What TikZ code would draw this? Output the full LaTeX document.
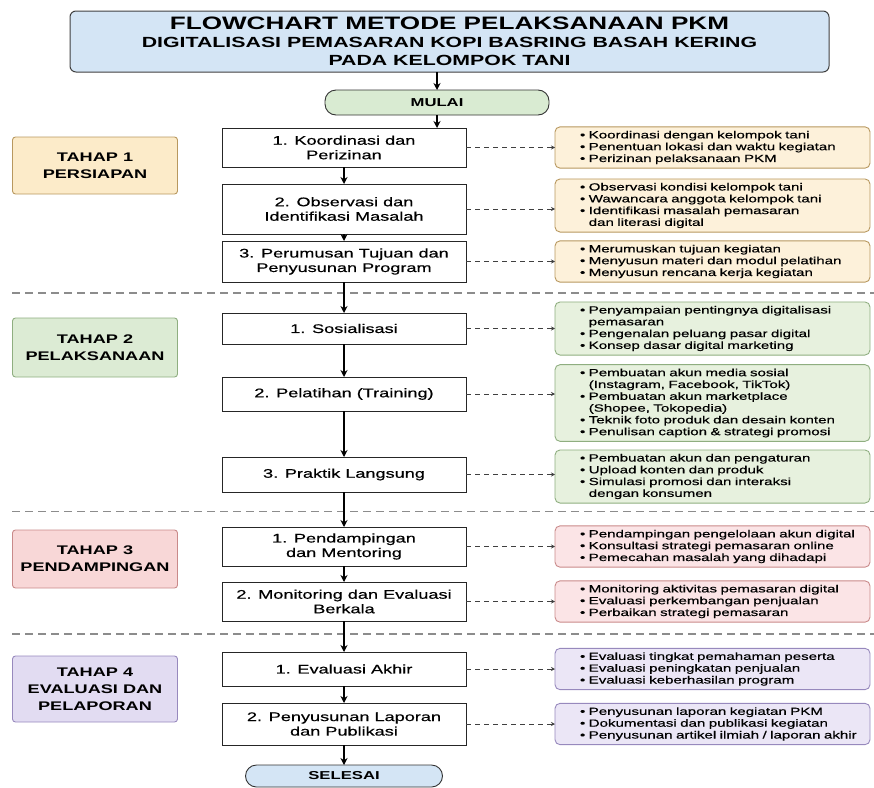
\documentclass[tikz,border=0pt]{standalone}
\usepackage{fontspec}
\setmainfont{Liberation Sans}[FakeStretch=1.45]
\newfontfamily\medfont{Liberation Sans}[FakeStretch=1.45,FakeBold=0.5]
\usetikzlibrary{arrows.meta, positioning}
\definecolor{pkmblue}{HTML}{D4E5F5}
\definecolor{pkmgreen}{HTML}{D9EBD2}
\definecolor{prepfill}{HTML}{FCEBC9}
\definecolor{prepline}{HTML}{B8985F}
\definecolor{prepnote}{HTML}{FDF1DA}
\definecolor{execfill}{HTML}{DCEBD4}
\definecolor{execline}{HTML}{8FAE80}
\definecolor{execnote}{HTML}{E7F1DE}
\definecolor{mentfill}{HTML}{F8D7D7}
\definecolor{mentline}{HTML}{C98A8A}
\definecolor{mentnote}{HTML}{FBE4E6}
\definecolor{evalfill}{HTML}{E2DCF2}
\definecolor{evalline}{HTML}{9789BD}
\definecolor{evalnote}{HTML}{EBE6F6}
\newcommand{\itm}[1]{\mbox{\textbullet\ #1}}
\newcommand{\cnt}[1]{\mbox{\hphantom{\textbullet\ }#1}}

\begin{document}
\begin{tikzpicture}[
    x=1pt, y=-1pt,
    stepbox/.style={draw=black!85, fill=white, line width=0.9pt, outer sep=0pt, minimum width=244pt, inner sep=2pt, align=center, font=\medfont\fontsize{12.5}{14.5}\selectfont},
    stage/.style={rounded corners=3pt, line width=0.9pt, minimum width=165pt, align=center, font=\bfseries\fontsize{12.5}{17}\selectfont},
    note/.style={rounded corners=5pt, line width=0.9pt, outer sep=0pt, text width=265pt, inner xsep=25pt, inner ysep=4pt, align=left, font=\medfont\fontsize{10.4}{11.8}\selectfont},
    terminal/.style={rounded corners=11pt, draw=black!80, line width=0.9pt, outer sep=0pt, font=\bfseries\fontsize{11.5}{13}\selectfont},
    flow/.style={-{Stealth[length=7pt,width=7pt]}, line width=1.4pt},
    link/.style={-{Stealth[length=4pt,width=4pt]}, dash pattern=on 5pt off 4pt, line width=0.8pt, draw=black!75},
    divider/.style={dash pattern=on 8pt off 5pt, line width=1.2pt, draw=black!45},
]
\useasboundingbox (0,0) rectangle (874,787);

% Title and start
\node[rounded corners=6pt, draw=black!75, line width=1pt, outer sep=0pt, fill=pkmblue, minimum width=759pt, minimum height=61pt, align=center, font=\bfseries\fontsize{14.7}{18}\selectfont] (title) at (449.5,41.5)
    {{\fontsize{18}{18}\selectfont FLOWCHART METODE PELAKSANAAN PKM}\\DIGITALISASI PEMASARAN KOPI BASRING BASAH KERING\\PADA KELOMPOK TANI};
\node[terminal, fill=pkmgreen, minimum width=224pt, minimum height=25pt] (mulai) at (437,102.5) {MULAI};

% Stage dividers
\draw[divider] (12,293) -- (874,293);
\draw[divider] (12,511.5) -- (874,511.5);
\draw[divider] (12,634) -- (874,634);

% Stage labels
\node[stage, fill=prepfill, draw=prepline, minimum height=57pt] (tahap1) at (95,165.5) {TAHAP 1\\PERSIAPAN};
\node[stage, fill=execfill, draw=execline, minimum height=59pt] (tahap2) at (95,347.5) {TAHAP 2\\PELAKSANAAN};
\node[stage, fill=mentfill, draw=mentline, minimum height=58pt] (tahap3) at (95,559) {TAHAP 3\\PENDAMPINGAN};
\node[stage, fill=evalfill, draw=evalline, minimum height=66pt] (tahap4) at (95,689) {TAHAP 4\\EVALUASI DAN\\PELAPORAN};

% Main steps
\node[stepbox, minimum height=39pt] (k1) at (344,147.5) {1. Koordinasi dan\\Perizinan};
\node[stepbox, minimum height=50pt, below=17pt of k1] (k2) {2. Observasi dan\\Identifikasi Masalah};
\node[stepbox, minimum height=41pt, below=7pt of k2] (k3) {3. Perumusan Tujuan dan\\Penyusunan Program};
\node[stepbox, minimum height=31pt, below=31pt of k3] (p1) {1. Sosialisasi};
\node[stepbox, minimum height=34pt, below=33pt of p1] (p2) {2. Pelatihan (Training)};
\node[stepbox, minimum height=35pt, below=46pt of p2] (p3) {3. Praktik Langsung};
\node[stepbox, minimum height=39pt, below=35pt of p3] (d1) {1. Pendampingan\\dan Mentoring};
\node[stepbox, minimum height=39pt, below=16pt of d1] (d2) {2. Monitoring dan Evaluasi\\Berkala};
\node[stepbox, minimum height=34pt, below=31pt of d2] (e1) {1. Evaluasi Akhir};
\node[stepbox, minimum height=42pt, below=17pt of e1] (e2) {2. Penyusunan Laporan\\dan Publikasi};
\node[terminal, fill=pkmblue, minimum width=197pt, minimum height=22pt, below=20pt of e2] (selesai) {SELESAI};

% Activity notes
\node[note, fill=prepnote, draw=prepline, right=89pt of k1] (n1) {\itm{Koordinasi dengan kelompok tani}\\\itm{Penentuan lokasi dan waktu kegiatan}\\\itm{Perizinan pelaksanaan PKM}};
\node[note, fill=prepnote, draw=prepline, right=89pt of k2, yshift=3.5pt] (n2) {\itm{Observasi kondisi kelompok tani}\\\itm{Wawancara anggota kelompok tani}\\\itm{Identifikasi masalah pemasaran}\\\cnt{dan literasi digital}};
\node[note, fill=prepnote, draw=prepline, right=89pt of k3] (n3) {\itm{Merumuskan tujuan kegiatan}\\\itm{Menyusun materi dan modul pelatihan}\\\itm{Menyusun rencana kerja kegiatan}};
\node[note, fill=execnote, draw=execline, right=89pt of p1] (n4) {\itm{Penyampaian pentingnya digitalisasi}\\\cnt{pemasaran}\\\itm{Pengenalan peluang pasar digital}\\\itm{Konsep dasar digital marketing}};
\node[note, fill=execnote, draw=execline, right=89pt of p2, yshift=-9pt] (n5) {\itm{Pembuatan akun media sosial}\\\cnt{(Instagram, Facebook, TikTok)}\\\itm{Pembuatan akun marketplace}\\\cnt{(Shopee, Tokopedia)}\\\itm{Teknik foto produk dan desain konten}\\\itm{Penulisan caption \& strategi promosi}};
\node[note, fill=execnote, draw=execline, right=89pt of p3, yshift=-2pt] (n6) {\itm{Pembuatan akun dan pengaturan}\\\itm{Upload konten dan produk}\\\itm{Simulasi promosi dan interaksi}\\\cnt{dengan konsumen}};
\node[note, fill=mentnote, draw=mentline, right=89pt of d1] (n7) {\itm{Pendampingan pengelolaan akun digital}\\\itm{Konsultasi strategi pemasaran online}\\\itm{Pemecahan masalah yang dihadapi}};
\node[note, fill=mentnote, draw=mentline, right=89pt of d2] (n8) {\itm{Monitoring aktivitas pemasaran digital}\\\itm{Evaluasi perkembangan penjualan}\\\itm{Perbaikan strategi pemasaran}};
\node[note, fill=evalnote, draw=evalline, right=89pt of e1] (n9) {\itm{Evaluasi tingkat pemahaman peserta}\\\itm{Evaluasi peningkatan penjualan}\\\itm{Evaluasi keberhasilan program}};
\node[note, fill=evalnote, draw=evalline, right=89pt of e2] (n10) {\itm{Penyusunan laporan kegiatan PKM}\\\itm{Dokumentasi dan publikasi kegiatan}\\\itm{Penyusunan artikel ilmiah / laporan akhir}};

% Flow arrows
\draw[flow] (title.south -| mulai.north) -- (mulai.north);
\draw[flow] (mulai.south) -- (mulai.south |- k1.north);
\draw[flow] (k1) -- (k2);
\draw[flow] (k2) -- (k3);
\draw[flow] (k3) -- (p1);
\draw[flow] (p1) -- (p2);
\draw[flow] (p2) -- (p3);
\draw[flow] (p3) -- (d1);
\draw[flow] (d1) -- (d2);
\draw[flow] (d2) -- (e1);
\draw[flow] (e1) -- (e2);
\draw[flow] (e2) -- (selesai);

% Dashed links to notes
\draw[link] (k1.east) -- (k1.east -| n1.west);
\draw[link] (k2.east) -- (k2.east -| n2.west);
\draw[link] (k3.east) -- (k3.east -| n3.west);
\draw[link] (p1.east) -- (p1.east -| n4.west);
\draw[link] (p2.east) -- (p2.east -| n5.west);
\draw[link] (p3.east) -- (p3.east -| n6.west);
\draw[link] (d1.east) -- (d1.east -| n7.west);
\draw[link] (d2.east) -- (d2.east -| n8.west);
\draw[link] (e1.east) -- (e1.east -| n9.west);
\draw[link] (e2.east) -- (e2.east -| n10.west);

\end{tikzpicture}
\end{document}
